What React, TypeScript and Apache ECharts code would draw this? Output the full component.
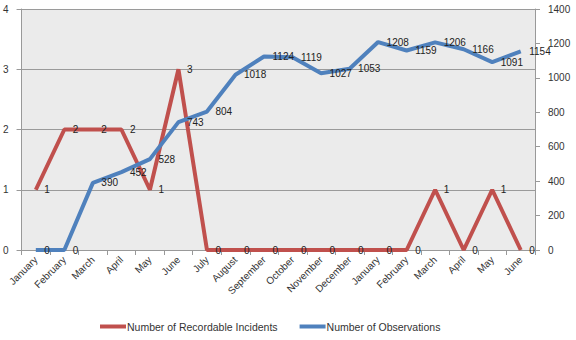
import React, { useEffect, useRef } from "react";
import * as echarts from "echarts";

const categories = ["January","February","March","April","May","June","July","August","September","October","November","December","January","February","March","April","May","June"];
const incidents = [1,2,2,2,1,3,0,0,0,0,0,0,0,0,1,0,1,0];
const observations = [0,0,390,452,528,743,804,1018,1124,1119,1027,1053,1208,1159,1206,1166,1091,1154];

const RED = "#c0504d";
const BLUE = "#4f81bd";

export default function App() {
  const ref = useRef<HTMLDivElement>(null);
  useEffect(() => {
    const chart = echarts.init(ref.current!, null, { renderer: "svg" });
    const font = "'Liberation Sans', Arial, sans-serif";
    chart.setOption({
      animation: false,
      backgroundColor: "#ffffff",
      textStyle: { fontFamily: font },
      grid: { left: 20, right: 41, top: 9, bottom: 90, show: true, backgroundColor: "#ebebeb", borderWidth: 0 },
      legend: {
        bottom: 3,
        left: 95,
        itemWidth: 26,
        itemHeight: 4,
        itemGap: 22,
        icon: "rect",
        textStyle: { fontSize: 10.5, color: "#333", fontFamily: font, padding: [0, 0, 0, -4] },
        data: [
          { name: "Number of Recordable Incidents", itemStyle: { color: RED, opacity: 1 } },
          { name: "Number of Observations", itemStyle: { color: BLUE, opacity: 1 } },
        ],
      },
      xAxis: {
        type: "category",
        data: categories,
        boundaryGap: true,
        axisLine: { lineStyle: { color: "#999" } },
        axisTick: { show: true, alignWithLabel: false, lineStyle: { color: "#999" } },
        axisLabel: { rotate: 45, fontSize: 10, color: "#333", interval: 0, margin: 8 },
      },
      yAxis: [
        {
          type: "value", min: 0, max: 4, interval: 1,
          axisLine: { show: true, lineStyle: { color: "#999" } },
          axisTick: { show: true, lineStyle: { color: "#999" } },
          axisLabel: { fontSize: 10, color: "#333", margin: 13 },
          splitLine: { show: true, lineStyle: { color: "#9a9a9a", width: 1 } },
        },
        {
          type: "value", min: 0, max: 1400, interval: 200,
          axisLine: { show: true, lineStyle: { color: "#999" } },
          axisTick: { show: true, lineStyle: { color: "#999" } },
          axisLabel: { fontSize: 10, color: "#333", margin: 13, formatter: (v: number) => String(v) },
          splitLine: { show: false },
        },
      ],
      series: [
        {
          name: "Number of Recordable Incidents",
          type: "line",
          yAxisIndex: 0,
          data: incidents,
          symbol: "circle",
          symbolSize: 1,
          showSymbol: true,
          itemStyle: { color: "rgba(0,0,0,0)", borderWidth: 0 },
          lineStyle: { width: 4, color: RED },
          label: { show: true, position: "right", fontSize: 10, color: "#222", distance: 8 },
          labelLayout: { hideOverlap: false },
          z: 2,
        },
        {
          name: "Number of Observations",
          type: "line",
          yAxisIndex: 1,
          data: observations,
          symbol: "circle",
          symbolSize: 1,
          showSymbol: true,
          itemStyle: { color: "rgba(0,0,0,0)", borderWidth: 0 },
          lineStyle: { width: 4, color: BLUE },
          label: { show: true, position: "right", fontSize: 10, color: "#222", distance: 8, offset: [0, 4] },
          labelLayout: { hideOverlap: false },
          z: 3,
        },
      ],
    });
    return () => chart.dispose();
  }, []);
  return <div ref={ref} style={{ width: 576, height: 340, position: "absolute", left: 0, top: 0 }} />;
}
